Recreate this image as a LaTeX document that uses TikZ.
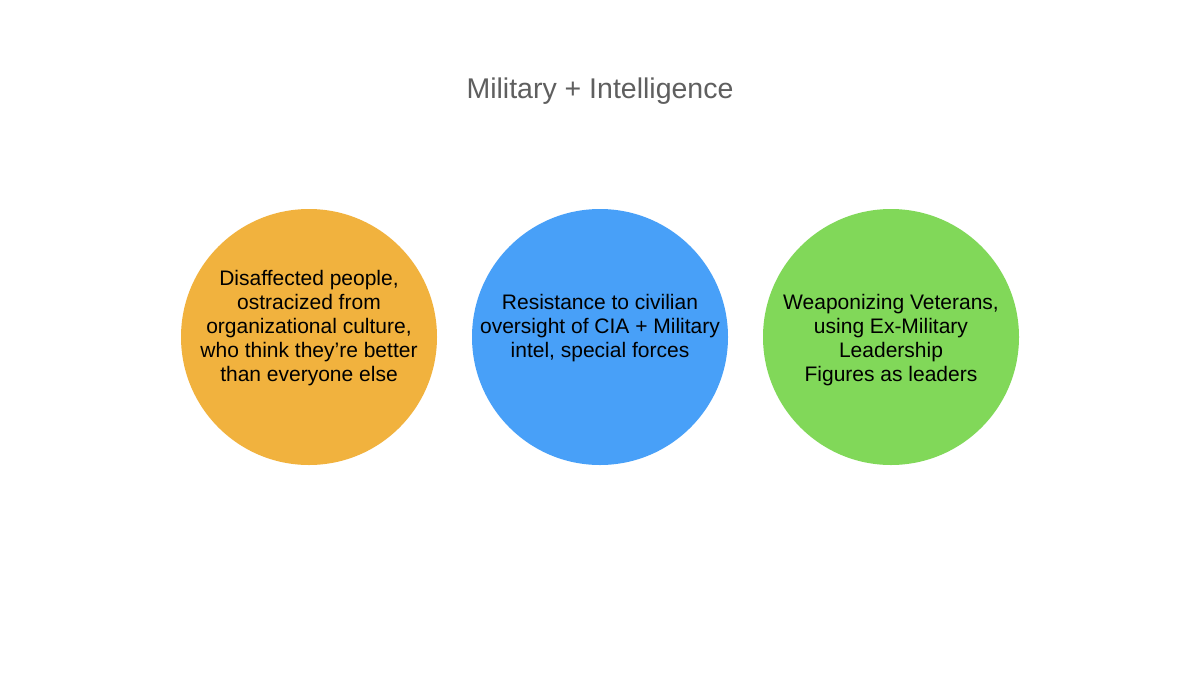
\documentclass[tikz,border=0pt]{standalone}
\usepackage{fontspec}
\setmainfont{Liberation Sans}
\definecolor{corange}{RGB}{241,178,62}
\definecolor{cblue}{RGB}{72,160,248}
\definecolor{cgreen}{RGB}{129,216,89}
\definecolor{ctitle}{RGB}{95,95,95}
\begin{document}
\begin{tikzpicture}[x=1pt,y=-1pt,
  disc/.style={circle,minimum size=256pt,inner sep=0pt,draw=none},
  body/.style={align=center,text=black,font=\fontsize{21}{24}\selectfont},
  titletext/.style={text=ctitle,font=\fontsize{28.5}{34}\selectfont}]
\useasboundingbox[fill=white] (0,0) rectangle (1200,675);
\node[titletext] (title) at (600,91) {Military + Intelligence};
\node[disc,fill=corange] (c1) at (309,337) {};
\node[disc,fill=cblue] (c2) at (600,337) {};
\node[disc,fill=cgreen] (c3) at (891,337) {};
\node[body] (t1) at (309,328) {Disaffected people,\\ostracized from\\organizational culture,\\who think they’re better\\than everyone else};
\node[body] (t2) at (600,328) {Resistance to civilian\\oversight of CIA + Military\\intel, special forces};
\node[body] (t3) at (891,340) {Weaponizing Veterans,\\using Ex-Military\\Leadership\\Figures as leaders};
\end{tikzpicture}
\end{document}
